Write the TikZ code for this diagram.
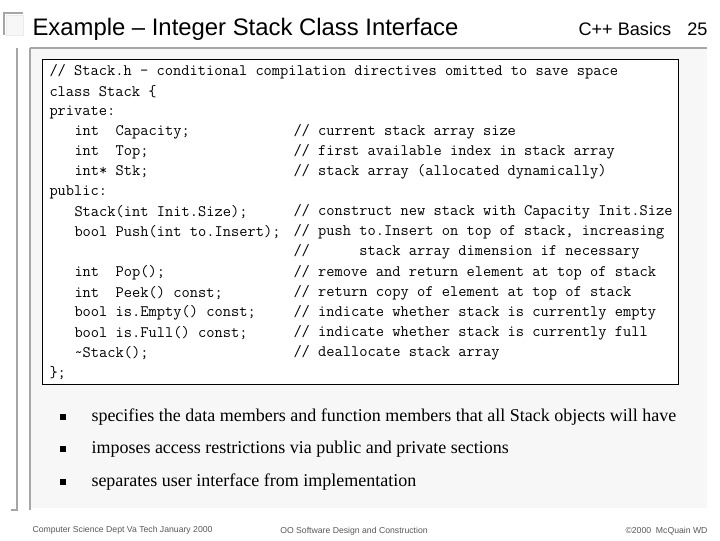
\documentclass[tikz,border=0pt]{standalone}
\usepackage{fontspec}
\setmainfont{Liberation Serif}
\setsansfont{Liberation Sans}
\tikzset{every picture/.style={line width=0.75pt}}
\tikzset{
  code/.style={anchor=west, inner sep=0pt, font=\ttfamily\fontsize{12}{13}\selectfont},
  bullettext/.style={anchor=west, inner sep=0pt, font=\fontsize{13.5}{15}\selectfont},
  bulletmark/.style={fill=black, minimum size=4.5pt, inner sep=0pt},
  footer/.style={inner sep=0pt, text=black!65, font=\sffamily\fontsize{6.5}{8}\selectfont}
}
\begin{document}
\begin{tikzpicture}[x=0.75pt,y=0.75pt,yscale=-1,xscale=1]
\useasboundingbox (0,0) rectangle (720,540);
\fill[white] (0,0) rectangle (720,540);

%Shape: Rectangle [background panel]
\fill[black!3] (30,48) rectangle (707,508);
%Shape: Rectangle [corner square]
\draw[black!35, line width=1.5pt] (23,13) -- (4,13) -- (4,35);
\draw[black!8, fill=black!3] (6,15) rectangle (23,35);
%Straight Lines [frame]
\draw[black!35, line width=1.5pt] (30,48) -- (707,48);
\draw[black!35, line width=1.5pt] (30,48) -- (30,510);
\draw[black!35, line width=1.5pt] (17,48) -- (17,510) -- (11,510);

%Shape: Rectangle [code box]
\draw[fill=white] (42,59) rectangle (678,384);

% Text Node
\node[anchor=base west, inner sep=0pt, font=\sffamily\fontsize{17.9}{19}\selectfont] (title) at (32,35) {Example -- Integer Stack Class Interface};
\node[anchor=base west, inner sep=0pt, font=\sffamily\fontsize{13.6}{15}\selectfont] (topic) at (578,35) {C++ Basics};
\node[anchor=base east, inner sep=0pt, font=\sffamily\fontsize{13.6}{15}\selectfont] (page) at (708,35) {25};

% Code lines
\node[code] (l1) at (49,72) {// Stack.h - conditional compilation directives omitted to save space};
\node[code] (l2) at (49,92) {class Stack \{};
\node[code] (l3) at (49,112) {private:};
\node[code] (l4) at (74,132) {int~~Capacity;};
\node[code] (l5) at (74,152) {int~~Top;};
\node[code] (l6) at (74,172) {int*~Stk;};
\node[code] (l7) at (49,192) {public:};
\node[code] (l8) at (74,212) {Stack(int Init.Size);};
\node[code] (l9) at (74,232) {bool Push(int to.Insert);};
\node[code] (l11) at (74,273) {int~~Pop();};
\node[code] (l12) at (74,293) {int~~Peek() const;};
\node[code] (l13) at (74,313) {bool is.Empty() const;};
\node[code] (l14) at (74,333) {bool is.Full() const;};
\node[code] (l15) at (74,353) {\textasciitilde Stack();};
\node[code] (l16) at (49,373) {\};};

% Comments
\node[code] (c4) at (293,132) {// current stack array size};
\node[code] (c5) at (293,152) {// first available index in stack array};
\node[code] (c6) at (293,172) {// stack array (allocated dynamically)};
\node[code] (c8) at (293,212) {// construct new stack with Capacity Init.Size};
\node[code] (c9) at (293,232) {// push to.Insert on top of stack, increasing};
\node[code] (c10) at (293,252) {//~~~~~~stack array dimension if necessary};
\node[code] (c11) at (293,273) {// remove and return element at top of stack};
\node[code] (c12) at (293,293) {// return copy of element at top of stack};
\node[code] (c13) at (293,313) {// indicate whether stack is currently empty};
\node[code] (c14) at (293,333) {// indicate whether stack is currently full};
\node[code] (c15) at (293,353) {// deallocate stack array};

% Bullets
\node[bulletmark] (b1) at (63,417) {};
\node[bullettext] (t1) at (91,417) {specifies the data members and function members that all Stack objects will have};
\node[bulletmark] (b2) at (63,449) {};
\node[bullettext] (t2) at (91,449) {imposes access restrictions via public and private sections};
\node[bulletmark] (b3) at (63,482) {};
\node[bullettext] (t3) at (91,482) {separates user interface from implementation};

% Footer
\node[footer, anchor=west] (f1) at (32,530) {Computer Science Dept Va Tech January 2000};
\node[footer] (f2) at (354,531) {OO Software Design and Construction};
\node[footer, anchor=east] (f3) at (708,531) {\textcopyright 2000\ \ McQuain WD};
\end{tikzpicture}
\end{document}
